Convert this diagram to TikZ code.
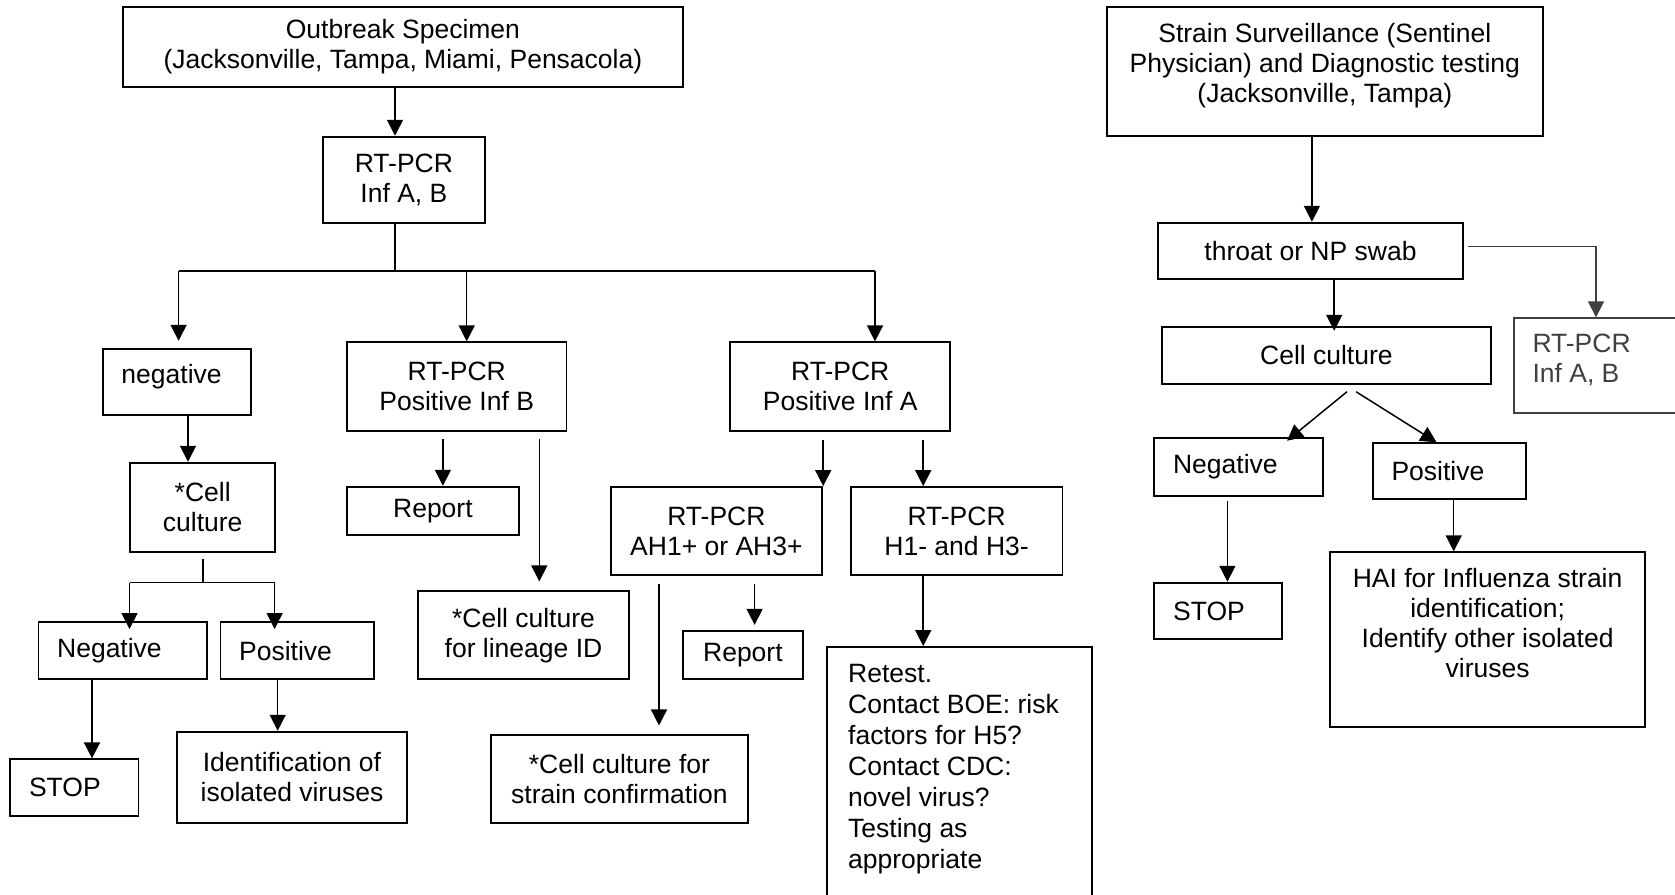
\documentclass[tikz,border=0pt]{standalone}
\usepackage{fontspec}
\setmainfont{Liberation Sans}
\usepackage{tikz}
\usetikzlibrary{arrows.meta, positioning, calc}
\definecolor{pcrgray}{RGB}{64,64,64}

\begin{document}
\begin{tikzpicture}[x=1pt,y=-1pt,>={Triangle[length=16pt,width=16pt]},
    font=\fontsize{26.5}{30}\selectfont,
    box/.style={draw,line width=1.9pt,inner sep=0pt,align=center},
    lbox/.style={draw,line width=1.9pt,inner ysep=0pt,inner xsep=18.7pt,align=left},
    txt/.style={inner sep=0pt},
    link/.style={line width=1.5pt}]
  \fill[white] (0,0) rectangle (1675,894);
  \useasboundingbox (0,0) rectangle (1675,894);

  % outbreak side
  \node[box,minimum width=560.2pt,minimum height=80.6pt] (outbreak) at (402.9,47) {Outbreak Specimen\\(Jacksonville, Tampa, Miami, Pensacola)};
  \node[box,minimum width=162.3pt,minimum height=86pt] (pcrab) at (403.9,179.7) {RT-PCR\\Inf A, B};
  \node[lbox,text width=110.9pt,text depth=17pt,minimum height=65.7pt] (neg) at (176.9,382.2) {negative};
  \node[box,minimum width=219.6pt,minimum height=88.4pt] (infb) at (456.7,386.5) {RT-PCR\\Positive Inf B};
  \node[box,minimum width=219.6pt,minimum height=88.3pt] (infa) at (840.2,386.5) {RT-PCR\\Positive Inf A};
  \node[box,minimum width=144.6pt,minimum height=89pt] (cellneg) at (202.7,507.2) {*Cell\\culture};
  \node[lbox,text width=130.9pt,minimum height=57pt] (negl) at (122.6,650.8) {Negative};
  \node[lbox,text width=115.8pt,minimum height=57pt] (posl) at (297.1,650.8) {Positive};
  \node[lbox,text width=90.7pt,minimum height=56.7pt] (stopl) at (74.4,787.7) {STOP};
  \node[box,minimum width=229.5pt,minimum height=91pt] (ident) at (292,777.2) {Identification of\\isolated viruses};
  \node[box,minimum width=171.9pt,minimum height=48.3pt] (reportb) at (432.9,510.9) {Report};
  \node[box,minimum width=210.3pt,minimum height=88.3pt] (lineage) at (523.5,635.2) {*Cell culture\\for lineage ID};
  \node[box,minimum width=211.3pt,minimum height=88.3pt] (ah) at (716.4,531.2) {RT-PCR\\AH1+ or AH3+};
  \node[box,minimum width=211.8pt,minimum height=88.3pt] (hone) at (956.6,531.2) {RT-PCR\\H1- and H3-};
  \node[box,minimum width=120pt,minimum height=48.2pt] (reporta) at (742.9,655.1) {Report};
  \node[box,minimum width=257.6pt,minimum height=88.4pt] (strainid) at (619.4,778.8) {*Cell culture for\\strain confirmation};
  \node[box,minimum width=265pt,minimum height=300pt] (retest) at (959.2,797) {};
  \node[txt,align=left,anchor=west,font=\fontsize{26.5}{31}\selectfont] (retesttxt) at (848,768.8) {Retest.\\Contact BOE: risk\\factors for H5?\\Contact CDC:\\novel virus?\\Testing as\\appropriate};

  % surveillance side
  \node[box,minimum width=436.4pt,minimum height=129pt] (surv) at (1324.8,71.2) {};
  \node[txt,align=center] (survtxt) at (1324.8,65.9) {Strain Surveillance (Sentinel\\Physician) and Diagnostic testing\\(Jacksonville, Tampa)};
  \node[box,minimum width=305.7pt,minimum height=56.6pt] (throat) at (1310.5,251) {throat or NP swab};
  \node[box,draw=pcrgray,minimum width=185.7pt,minimum height=95pt] (pcrside) at (1607.2,365.8) {};
  \node[txt,align=left,anchor=west,text=pcrgray] (pcrsidetxt) at (1532.3,360.3) {RT-PCR\\Inf A, B};
  \node[box,minimum width=329.6pt,minimum height=57.3pt] (cellr) at (1326.4,355.4) {Cell culture};
  \node[lbox,text width=130.8pt,minimum height=57.4pt] (negr) at (1238.5,467) {Negative};
  \node[lbox,text width=116.1pt,minimum height=56.6pt] (posr) at (1449.6,471) {Positive};
  \node[lbox,text width=90.2pt,minimum height=56.6pt] (stopr) at (1218.2,611) {STOP};
  \node[box,minimum width=314.8pt,minimum height=174.4pt] (hai) at (1487.6,639.5) {};
  \node[txt,align=center] (haitxt) at (1487.6,623.1) {HAI for Influenza strain\\identification;\\Identify other isolated\\viruses};

  % main split
  \coordinate (split) at (395,271);
  \coordinate (sneg) at (178.6,271);
  \coordinate (sinfb) at (466.7,271);
  \coordinate (sinfa) at (875,271);
  \draw[link,->] (outbreak.south -| split) -- (pcrab.north -| split);
  \draw[link] (pcrab.south -| split) -- (split);
  \draw[link] (sneg) -- (sinfa);
  \draw[link,->,shorten >=7.6pt] (sneg) -- (sneg |- neg.north);
  \draw[link,->] (sinfb) -- (sinfb |- infb.north);
  \draw[link,->] (sinfa) -- (sinfa |- infa.north);

  % negative branch
  \coordinate (cneg) at (188,0);
  \coordinate (ccell) at (203,582.7);
  \coordinate (cnegl) at (129.5,582.7);
  \coordinate (cposl) at (274.6,582.7);
  \coordinate (cstopl) at (92,0);
  \coordinate (cident) at (277.7,0);
  \draw[link,->] (neg.south -| cneg) -- (cellneg.north -| cneg);
  \draw[link,shorten <=6.6pt] (cellneg.south -| ccell) -- (ccell);
  \draw[link] (cnegl) -- (cposl);
  \draw[link,->,shorten >=-7.7pt] (cnegl) -- (cnegl |- negl.north);
  \draw[link,->,shorten >=-7.7pt] (cposl) -- (cposl |- posl.north);
  \draw[link,->] (negl.south -| cstopl) -- (stopl.north -| cstopl);
  \draw[link,->] (posl.south -| cident) -- (ident.north -| cident);

  % Inf B branch
  \coordinate (crepb) at (442.9,0);
  \coordinate (clin) at (539.3,0);
  \draw[link,->,shorten <=7.3pt] (infb.south -| crepb) -- (reportb.north -| crepb);
  \draw[link,->,shorten <=7.3pt,shorten >=8.7pt] (infb.south -| clin) -- (lineage.north -| clin);

  % Inf A branch
  \coordinate (cah) at (823.2,0);
  \coordinate (chone) at (923.2,0);
  \coordinate (cstr) at (659,0);
  \coordinate (crepa) at (754.6,0);
  \draw[link,->,shorten <=8.3pt] (infa.south -| cah) -- (ah.north -| cah);
  \draw[link,->,shorten <=8.3pt] (infa.south -| chone) -- (hone.north -| chone);
  \draw[link,->,shorten <=7.3pt,shorten >=8.2pt] (ah.south -| cstr) -- (strainid.north -| cstr);
  \draw[link,->,shorten <=7.3pt,shorten >=5.2pt] (ah.south -| crepa) -- (reporta.north -| crepa);
  \draw[link,->] (hone.south -| chone) -- (retest.north -| chone);

  % surveillance branch
  \coordinate (csurv) at (1311.9,0);
  \coordinate (cside) at (1596,246.7);
  \coordinate (ccellr) at (1334.2,0);
  \coordinate (cstopr) at (1227.4,0);
  \coordinate (chai) at (1453.7,0);
  \draw[link,->] (surv.south -| csurv) -- (throat.north -| csurv);
  \draw[link,draw=pcrgray,->,shorten <=3.2pt] (throat.east |- cside) -- (cside) -- (cside |- pcrside.north);
  \draw[link,->,shorten >=-5pt] (throat.south -| ccellr) -- (cellr.north -| ccellr);
  \draw[link,->] ($(cellr.south)+(20.6,6.7)$) -- ($(negr.north)+(48.5,3.4)$);
  \draw[link,->] ($(cellr.south)+(29.6,6.7)$) -- ($(posr.north)+(-13,0.6)$);
  \draw[link,->,shorten <=4.3pt] (negr.south -| cstopr) -- (stopr.north -| cstopr);
  \draw[link,->] (posr.south -| chai) -- (hai.north -| chai);
\end{tikzpicture}
\end{document}
